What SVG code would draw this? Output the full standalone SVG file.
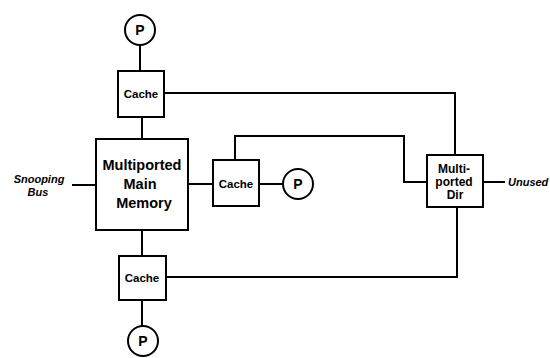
<svg xmlns="http://www.w3.org/2000/svg" width="550" height="358" viewBox="0 0 550 358">
<style>
.box{fill:#fff;stroke:#000;stroke-width:2}
.ln{fill:none;stroke:#000;stroke-width:2}
.t{font-family:"Liberation Sans",Arial,sans-serif;font-weight:bold;fill:#000;text-anchor:middle}
.it{font-family:"Liberation Sans",Arial,sans-serif;font-weight:bold;font-style:italic;fill:#000}
</style>
<rect width="550" height="358" fill="#fff"/>
<g id="connectors">
<line class="ln" x1="140" y1="45" x2="140" y2="71"/>
<line class="ln" x1="142" y1="117" x2="142" y2="139"/>
<line class="ln" x1="142" y1="230" x2="142" y2="256"/>
<line class="ln" x1="142" y1="300" x2="142" y2="326"/>
<polyline class="ln" points="164,93 455,93 455,155"/>
<line class="ln" x1="188" y1="184" x2="213" y2="184"/>
<line class="ln" x1="259" y1="184" x2="283" y2="184"/>
<polyline class="ln" points="235,160 235,136 404,136 404,182 427,182"/>
<line class="ln" x1="483" y1="182" x2="505" y2="182"/>
<polyline class="ln" points="457,207 457,277 166,277"/>
<line class="ln" x1="72" y1="185" x2="96" y2="185"/>
</g>
<g id="p-top"><circle class="box" cx="140" cy="30" r="15"/><text class="t" x="140" y="35" font-size="14">P</text></g>
<g id="cache-top"><rect class="box" x="118" y="71" width="46" height="46"/><text class="t" x="141" y="98" font-size="11.5">Cache</text></g>
<g id="memory"><rect class="box" x="96" y="139" width="92" height="91"/>
<text class="t" x="142" y="170" font-size="14.5">Multiported</text>
<text class="t" x="140" y="189" font-size="14.5">Main</text>
<text class="t" x="144" y="208" font-size="14.5">Memory</text></g>
<g id="snooping-bus"><text class="it" x="39" y="183" font-size="11" text-anchor="middle">Snooping</text><text class="it" x="38" y="196" font-size="11" text-anchor="middle">Bus</text></g>
<g id="cache-mid"><rect class="box" x="213" y="160" width="46" height="46"/><text class="t" x="236" y="188" font-size="11.5">Cache</text></g>
<g id="p-mid"><circle class="box" cx="298" cy="184" r="15"/><text class="t" x="298" y="189" font-size="14">P</text></g>
<g id="dir"><rect class="box" x="427" y="155" width="56" height="52"/>
<text class="t" x="454" y="173" font-size="12">Multi-</text>
<text class="t" x="454" y="186" font-size="12">ported</text>
<text class="t" x="455" y="199" font-size="12">Dir</text></g>
<g id="unused"><text class="it" x="508" y="186" font-size="11">Unused</text></g>
<g id="cache-bot"><rect class="box" x="119" y="256" width="47" height="44"/><text class="t" x="142" y="282" font-size="11.5">Cache</text></g>
<g id="p-bot"><circle class="box" cx="143" cy="341" r="15"/><text class="t" x="143" y="346" font-size="14">P</text></g>
</svg>
